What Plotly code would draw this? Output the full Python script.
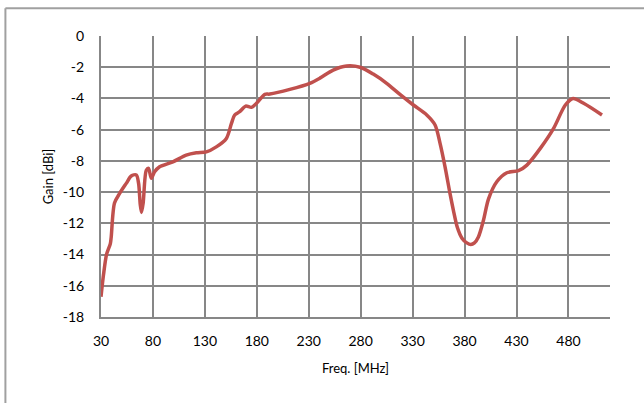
import plotly.graph_objects as go

freq_mhz = [30, 32.4, 35.3, 39, 39.8, 43, 47.8, 54.3, 59.1, 64, 66.2, 67.8, 69.0, 70.6, 73.6, 75.8, 78.4,
            81.6, 86.4, 99.2, 112, 121.8, 131.4, 141, 150.7, 155.6, 158.7, 163.5, 169.3, 174.8,
            179.7, 187.7, 192.5, 211.8, 231, 240.7, 253.5, 266.4, 279.3, 292.1, 305, 317.8, 330.7,
            343.6, 351.6, 356.4, 361.2, 366, 369.2, 373, 377.5, 382.2, 386, 389.5, 393.3, 398.2, 403,
            411, 420.7, 431.9, 440, 452.9, 465.7, 477, 484.4, 494.6, 512.3]
gain_dbi = [-16.7, -15.3, -14.0, -13.3, -12.9, -10.7, -10.1, -9.44, -8.97, -8.9, -9.44, -10.8,
            -11.3, -10.7, -8.6, -8.48, -9.12, -8.7, -8.38, -8.06, -7.63, -7.48, -7.42, -7.1, -6.56,
            -5.6, -5.06, -4.85, -4.49, -4.57, -4.31, -3.74, -3.72, -3.42, -3.03, -2.7, -2.18, -1.92,
            -2.0, -2.44, -3.03, -3.74, -4.42, -5.06, -5.7, -6.88, -8.38, -10.1, -11.15, -12.25,
            -12.95, -13.25, -13.35, -13.25, -12.87, -11.8, -10.45, -9.34, -8.76, -8.63, -8.27,
            -7.2, -5.92, -4.42, -4.0, -4.31, -5.06]
x_ticks = [30, 80, 130, 180, 230, 280, 330, 380, 430, 480]
y_ticks = [0, -2, -4, -6, -8, -10, -12, -14, -16, -18]

font_family = "Lato, Open Sans, sans-serif"
grid_color = "#878787"
border_color = "#A0A0A0"

fig = go.Figure()
fig.add_trace(go.Scatter(
    x=freq_mhz, y=gain_dbi, mode="lines",
    line=dict(color="#C0504D", width=3.5, shape="spline", smoothing=0.8),
    showlegend=False, hoverinfo="skip",
))

fig.update_layout(
    width=644, height=403,
    margin=dict(l=101, r=34, t=36, b=86),
    paper_bgcolor="white", plot_bgcolor="white",
    font=dict(family=font_family, size=14, color="black"),
    xaxis=dict(
        range=[30, 520], tickvals=x_ticks, ticktext=[str(v) for v in x_ticks],
        showgrid=True, gridcolor=grid_color, gridwidth=2,
        showline=True, linecolor=grid_color, linewidth=2,
        zeroline=False, ticks="", ticklabelstandoff=10,
        title=dict(text="Freq. [MHz]", font=dict(size=13), standoff=16),
    ),
    yaxis=dict(
        range=[-18, 0], tickvals=y_ticks, ticktext=[str(v) for v in y_ticks],
        showgrid=True, gridcolor=grid_color, gridwidth=2,
        showline=True, linecolor=grid_color, linewidth=2,
        zeroline=False, ticks="", ticklabelstandoff=12,
        title=dict(text="Gain [dBi]", font=dict(size=13), standoff=6),
    ),
    shapes=[
        dict(type="line", xref="paper", yref="paper",
             x0=-0.1878, x1=1.3, y0=1.0985, y1=1.0985,
             line=dict(color=border_color, width=2), layer="below"),
        dict(type="line", xref="paper", yref="paper",
             x0=-0.1878, x1=-0.1878, y0=-0.5, y1=1.0985,
             line=dict(color=border_color, width=2), layer="below"),
    ],
)

fig.write_html("out.html", config={"displayModeBar": False},
               post_script="document.body.style.margin='0';")
